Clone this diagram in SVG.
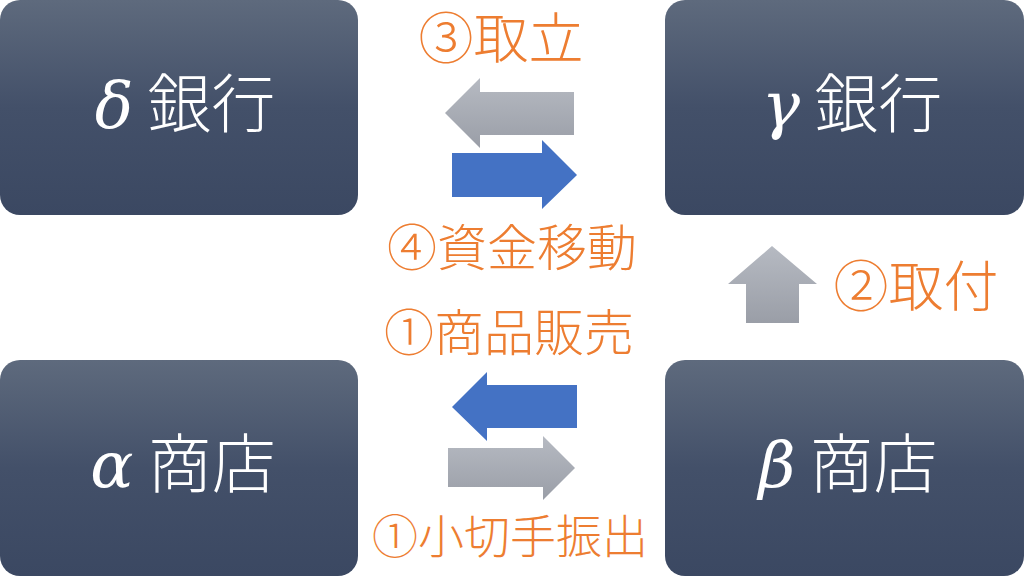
<svg xmlns="http://www.w3.org/2000/svg" width="1024" height="576" viewBox="0 0 1024 576">
<defs>
<linearGradient id="boxg" x1="0" y1="0" x2="0" y2="1">
<stop offset="0" stop-color="#5e6a7d"/>
<stop offset="0.5" stop-color="#435069"/>
<stop offset="1" stop-color="#3b4862"/>
</linearGradient>
<linearGradient id="grayg" x1="0" y1="0" x2="0" y2="1">
<stop offset="0" stop-color="#b6bac2"/>
<stop offset="1" stop-color="#9a9ea7"/>
</linearGradient>
<style>
.box{fill:url(#boxg);}
.bl{fill:#ffffff;font-family:"Noto Sans CJK JP","Noto Sans",sans-serif;font-weight:300;font-size:64px;text-anchor:middle;}
.gr{font-family:"DejaVu Serif","Liberation Serif",serif;font-style:italic;}
.lb{fill:#ed7d31;font-family:"Noto Sans CJK JP","Noto Sans",sans-serif;font-weight:300;font-size:50px;text-anchor:middle;}
.blue{fill:#4472c4;}
.gray{fill:url(#grayg);}
</style>
</defs>
<g id="delta-bank">
<rect class="box" x="0" y="0" width="358" height="215" rx="20"/>
<text class="bl" x="185" y="127"><tspan class="gr">δ</tspan> 銀行</text>
</g>
<g id="gamma-bank">
<rect class="box" x="665" y="0" width="359" height="215" rx="20"/>
<text class="bl" x="852" y="127"><tspan class="gr">γ</tspan> 銀行</text>
</g>
<g id="alpha-shop">
<rect class="box" x="0" y="360" width="358" height="216" rx="20"/>
<text class="bl" x="183" y="487"><tspan class="gr">α</tspan> 商店</text>
</g>
<g id="beta-shop">
<rect class="box" x="665" y="360" width="359" height="216" rx="20"/>
<text class="bl" x="848" y="487"><tspan class="gr">β</tspan> 商店</text>
</g>
<g id="connectors">
<polygon class="gray" points="445,113 480,78 480,92 574,92 574,135 480,135 480,148"/>
<polygon class="blue" points="577,175 542,140 542,153 452,153 452,197 542,197 542,209"/>
<polygon class="gray" points="772,246 817,284 799,284 799,323 746,323 746,284 728,284"/>
<polygon class="blue" points="452,407 487,372 487,385 577,385 577,428 487,428 487,441"/>
<polygon class="gray" points="575,468 543,436 543,448 448,448 448,487 543,487 543,500"/>
</g>
<g id="labels">
<text class="lb" x="501" y="58" style="font-size:55px">③取立</text>
<text class="lb" x="512" y="266">④資金移動</text>
<text class="lb" x="916" y="306" style="font-size:55px">②取付</text>
<text class="lb" x="509" y="351">①商品販売</text>
<text class="lb" x="510" y="553" style="font-size:46px">①小切手振出</text>
</g>
</svg>
